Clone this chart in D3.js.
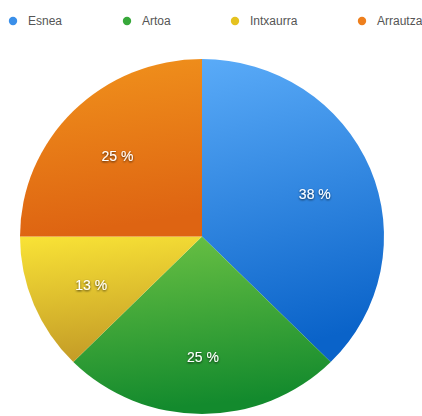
<!DOCTYPE html>
<html>
<head>
<meta charset="utf-8">
<script src="https://cdn.jsdelivr.net/npm/d3@7/dist/d3.min.js"></script>
<style>
  html, body { margin: 0; padding: 0; background: #fff; }
  svg { display: block; }
</style>
</head>
<body>
<svg id="chart" width="422" height="416"></svg>
<script>
// Food composition shares
const categories = ["Esnea", "Artoa", "Intxaurra", "Arrautza"];
const values = [3, 2, 1, 2];
const legendColors = ["#3a8fe9", "#37a83a", "#e5c21f", "#ee7f1d"];
const gradTop = ["#5aabf8", "#6cc244", "#f9e336", "#f1931c"];
const gradBottom = ["#0a63c9", "#138a2d", "#c59d27", "#de6412"];

const svg = d3.select("#chart");
const cx = 202, cy = 236.5, rx = 182, ry = 177.5;
// legend marker positions along the top row
const legendX = [13, 127, 235, 362];

const defs = svg.append("defs");
categories.forEach((c, i) => {
  const g = defs.append("linearGradient")
    .attr("id", "grad" + i)
    .attr("x1", 0).attr("y1", 0).attr("x2", 0.15).attr("y2", 1);
  g.append("stop").attr("offset", "0%").attr("stop-color", gradTop[i]);
  g.append("stop").attr("offset", "100%").attr("stop-color", gradBottom[i]);
});
const shadow = defs.append("filter").attr("id", "txtShadow")
  .attr("x", "-20%").attr("y", "-30%").attr("width", "140%").attr("height", "160%");
shadow.append("feDropShadow").attr("dx", 0).attr("dy", 1)
  .attr("stdDeviation", 0.9).attr("flood-color", "#000").attr("flood-opacity", 0.75);

const total = d3.sum(values);
const pie = d3.pie().sort(null).value(d => d);
const arcs = pie(values);
const arc = d3.arc().innerRadius(0).outerRadius(rx);
const labelR = rx * 0.665;

const g = svg.append("g")
  .attr("transform", `translate(${cx},${cy}) scale(1,${ry / rx})`);

g.selectAll("path.slice")
  .data(arcs)
  .enter().append("path")
  .attr("class", "slice")
  .attr("d", arc)
  .attr("fill", (d, i) => `url(#grad${i})`);

// Percentage labels
const lg = svg.append("g").attr("transform", `translate(${cx + 1},${cy + 3})`);
lg.selectAll("text")
  .data(arcs)
  .enter().append("text")
  .attr("x", d => Math.sin((d.startAngle + d.endAngle) / 2) * labelR)
  .attr("y", d => -Math.cos((d.startAngle + d.endAngle) / 2) * labelR * (ry / rx))
  .attr("dy", "0.35em")
  .attr("text-anchor", "middle")
  .attr("font-family", "Liberation Sans, Arial, sans-serif")
  .attr("font-size", 14)
  .attr("fill", "#fff")
  .attr("filter", "url(#txtShadow)")
  .text(d => Math.round(d.value / total * 100) + " %");

// Legend
const legend = svg.append("g").attr("class", "legend");
categories.forEach((c, i) => {
  const item = legend.append("g");
  item.append("circle")
    .attr("cx", legendX[i]).attr("cy", 21).attr("r", 4.2)
    .attr("fill", legendColors[i]);
  item.append("text")
    .attr("x", legendX[i] + 15).attr("y", 21).attr("dy", "0.35em")
    .attr("font-family", "Liberation Sans, Arial, sans-serif")
    .attr("font-size", 12)
    .attr("fill", "#555")
    .text(c);
});
</script>
</body>
</html>
